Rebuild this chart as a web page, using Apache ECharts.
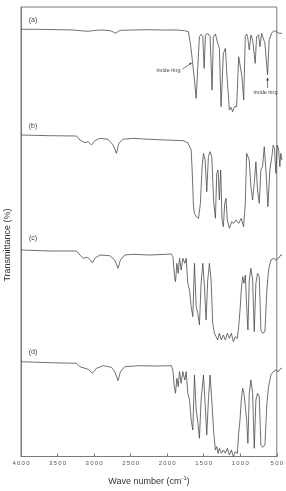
<!DOCTYPE html>
<html><head><meta charset="utf-8">
<script src="https://cdn.jsdelivr.net/npm/echarts@6/dist/echarts.min.js"></script>
<style>html,body{margin:0;padding:0;background:#fff}#c{width:286px;height:491px}</style>
</head><body><div id="c"></div>
<script>
const traceLabels = ['(a)', '(b)', '(c)', '(d)'];
const xTickValues = [4000, 3500, 3000, 2500, 2000, 1500, 1000, 500];
const xTitle = 'Wave number (cm';
const yTitle = 'Transmittance (%)';
const annotationText = 'imide ring';

const waveA = [4000,3800,3500,3300,3200,3100,3000,2900,2800,2755,2725,2695,2655,2505,2305,2105,1905,1805,1754,1730,1718,1700,1674,1651,1629,1607,1585,1562,1544,1527,1496,1464,1438,1420,1393,1362,1340,1317,1286,1259,1237,1224,1206,1184,1162,1139,1108,1081,1063,1037,1014,992,974,961,939,916,894,859,841,814,796,774,752,729,694,672,636,605,574,538,500];
const transA = [90.7,90.7,90.3,90,89.3,88.7,89.7,90,89.3,87.7,86.7,88.7,89.7,90,90.3,90,90,89.3,88.3,76.7,70,58.3,40,21.7,53.3,83.3,85.7,83.3,51.7,85,86.7,83.3,30,83.3,86,76.7,71.7,13.3,66.7,71.7,43.3,30,10,12.7,8.3,13.3,13.3,63.3,65,43.3,20,83.3,86,83.3,70,85,80,56.7,83.3,85,73.3,86.7,88.3,76.7,45,80,87.3,89.3,88.3,86.7,86.7];

const waveB = [4000,3611,3255,3210,3143,3099,3054,3010,2943,2832,2765,2720,2689,2631,2498,2275,2052,1830,1763,1718,1705,1687,1674,1651,1620,1594,1571,1553,1531,1509,1487,1464,1442,1415,1393,1375,1357,1340,1322,1304,1286,1268,1250,1233,1206,1175,1148,1117,1081,1046,1015,992,974,957,939,917,894,872,850,828,805,783,761,738,716,689,663,636,618,600,582,564,547,529,516,500];
const transB = [95,94.3,94,90,87.3,88.3,85,89.3,91.7,90.7,85,76.7,86.7,90.7,91.7,90.7,90,89.3,87.3,80,60,23.3,16.7,13.3,11.7,26.7,63.3,76.7,70,38.3,73.3,78.3,73.3,26.7,11.7,56.7,60,30,60,10,3.3,26.7,31.7,10,1.7,8.3,6.7,10,6.7,11.7,3.3,26.7,76.7,78.3,70,43.3,30,46.7,68.3,40,26.7,60,63.3,83.3,60,23.3,60,73.3,85,81.7,56.7,85,81.7,63.3,76.7,70];

const waveC = [4000,3611,3255,3210,3166,3112,3077,3041,3010,2943,2809,2743,2698,2667,2609,2498,2275,2052,1985,1963,1941,1928,1910,1892,1874,1852,1830,1803,1785,1763,1740,1718,1696,1674,1651,1629,1607,1585,1562,1540,1518,1496,1473,1451,1429,1406,1384,1362,1340,1313,1286,1259,1233,1206,1179,1152,1126,1099,1081,1063,1046,1028,1010,992,974,957,939,917,894,872,850,828,805,783,761,729,703,680,649,618,582,547,516,500];
const transC = [95,94,94,90,86.7,87.7,85.7,82.3,86.7,90,89.3,85,76.7,85,90,90.7,90,90.7,91,88.3,68.3,63.3,81.7,71.7,86.7,75,86.7,81.7,86.7,61.7,55,38.3,28.3,81.7,38.3,31.7,20,61.7,81.7,58.3,25,65,81.7,65,21.7,11.7,8.3,5,11.7,5,10,5,11.7,6.7,11.7,3.3,8.3,6.7,18.3,35,55,68.3,61.7,70,38.3,15,65,76.7,65,13.3,61.7,71.7,68.3,15,11.7,13.3,55,75,85,86.7,85,86.7,90,90];

const waveD = [4000,3611,3255,3210,3143,3099,3041,2988,2899,2787,2743,2698,2667,2609,2409,2186,1985,1963,1945,1928,1910,1892,1874,1852,1830,1803,1785,1763,1740,1718,1696,1674,1651,1629,1607,1585,1553,1531,1509,1487,1464,1442,1415,1393,1375,1357,1340,1313,1286,1259,1233,1206,1179,1152,1126,1099,1081,1063,1046,1028,1010,992,974,957,939,917,894,872,850,828,805,783,761,729,703,680,649,618,582,547,516,500];
const transD = [98.3,97.3,96.7,93.3,91.7,90.7,86.7,91.7,94.3,92.7,88.3,79.3,88.3,93.3,94.3,94,94.3,90,73.3,66.7,81.7,73.3,88.3,76.7,88.3,80,88.3,66.7,60,40,30,85,50,38.3,21.7,60,85,56.7,25,60,85,60,26.7,10,13.3,6.7,11.7,6.7,10,6.7,11.7,5,10,3.3,8.3,6.7,26.7,40,60,71.7,66.7,68.3,40,16.7,66.7,80,66.7,11.7,60,66.7,63.3,15,12.7,15,56.7,73.3,85,88.3,90,88.3,91.7,91.7];

// annotation anchors (wavenumber, transmittance) in trace (a)
const annot1 = [1700, 58];
const annot2 = [694, 44];

const FONT = '"Liberation Sans", Arial, sans-serif';
const LINE = '#4a4a4a';
const FRAME = '#7a7a7a';

function zip(w, t) { const n = Math.min(w.length, t.length); const r = []; for (let i = 0; i < n; i++) r.push([w[i], t[i]]); return r; }
const traces = [zip(waveA, transA), zip(waveB, transB), zip(waveC, transC), zip(waveD, transD)];

const L = 21, R = 4;
const bands = [{top: 20, height: 100}, {top: 130, height: 100}, {top: 245, height: 100}, {top: 360, height: 100}];

const grids = [{left: L, right: R, top: 7, bottom: 26, show: true, borderColor: FRAME, borderWidth: 1}];
const xAxes = [{
  gridIndex: 0, type: 'value', min: 500, max: 4000, interval: 500, inverse: true,
  axisLine: {show: true, lineStyle: {color: FRAME, width: 1}},
  axisTick: {show: true, inside: true, length: 3, lineStyle: {color: FRAME}},
  splitLine: {show: false},
  axisLabel: {show: true, margin: 4, fontSize: 6, color: '#555', fontFamily: FONT,
    formatter: v => xTickValues.indexOf(v) >= 0 ? String(v).split('').join('\u2009') : ''},
  name: xTitle + '{s|-1}){e|}', nameLocation: 'middle', nameGap: 19,
  nameTextStyle: {fontSize: 9, color: '#333', fontFamily: FONT,
    rich: {s: {fontSize: 5.5, color: '#333', fontFamily: FONT, padding: [0, 0, 6, 0]}, e: {}}}
}];
const yAxes = [{gridIndex: 0, type: 'value', min: 0, max: 100, show: true,
  axisLine: {show: true, lineStyle: {color: FRAME}}, axisTick: {show: false}, axisLabel: {show: false}, splitLine: {show: false}}];
const series = [];
bands.forEach((b, i) => {
  grids.push({left: L, right: R, top: b.top, height: b.height, show: false});
  xAxes.push({gridIndex: i + 1, type: 'value', min: 500, max: 4000, inverse: true, show: false});
  yAxes.push({gridIndex: i + 1, type: 'value', min: 0, max: 100, show: false});
  series.push({type: 'line', xAxisIndex: i + 1, yAxisIndex: i + 1, data: traces[i], showSymbol: false,
    symbol: 'none', lineStyle: {color: LINE, width: 0.8}, silent: true, clip: false});
});

const labelPos = [[33, 20], [33, 126], [33, 238], [33, 352]];

const chart = echarts.init(document.getElementById('c'), null, {renderer: 'canvas'});
chart.setOption({animation: false, backgroundColor: '#fff', grid: grids, xAxis: xAxes, yAxis: yAxes, series: series});

const p1 = chart.convertToPixel({gridIndex: 1}, annot1);
const p2 = chart.convertToPixel({gridIndex: 1}, annot2);
const g = [];
traceLabels.forEach((t, i) => g.push({type: 'text', x: labelPos[i][0], y: labelPos[i][1],
  style: {text: t, fontSize: 7, fill: '#444', fontFamily: FONT, textAlign: 'center', textVerticalAlign: 'middle'}}));
g.push({type: 'text', x: 8, y: 245, rotation: Math.PI / 2,
  style: {text: yTitle, fontSize: 9, fill: '#333', fontFamily: FONT, textAlign: 'center', textVerticalAlign: 'middle'}});
// annotation 1
const t1 = [p1[0] - 24, p1[1] + 8];
g.push({type: 'text', x: t1[0], y: t1[1], style: {text: annotationText, fontSize: 5.5, fill: '#444', fontFamily: FONT, textAlign: 'center', textVerticalAlign: 'middle'}});
g.push({type: 'line', shape: {x1: t1[0] + 14, y1: t1[1] - 1, x2: p1[0] - 1, y2: p1[1] + 1}, style: {stroke: '#444', lineWidth: 0.7}});
g.push({type: 'polygon', shape: {points: [[p1[0] - 0.5, p1[1] + 0.5], [p1[0] - 3.5, p1[1] + 1.2], [p1[0] - 2, p1[1] + 3]]}, style: {fill: '#444'}});
// annotation 2
const t2 = [p2[0] - 2, p2[1] + 16];
g.push({type: 'text', x: t2[0], y: t2[1], style: {text: annotationText, fontSize: 5.5, fill: '#444', fontFamily: FONT, textAlign: 'center', textVerticalAlign: 'middle'}});
g.push({type: 'line', shape: {x1: p2[0], y1: t2[1] - 4, x2: p2[0], y2: p2[1] + 2}, style: {stroke: '#444', lineWidth: 0.7}});
g.push({type: 'polygon', shape: {points: [[p2[0], p2[1] + 1.5], [p2[0] - 1.5, p2[1] + 4.5], [p2[0] + 1.5, p2[1] + 4.5]]}, style: {fill: '#444'}});
chart.setOption({graphic: g});
</script></body></html>
